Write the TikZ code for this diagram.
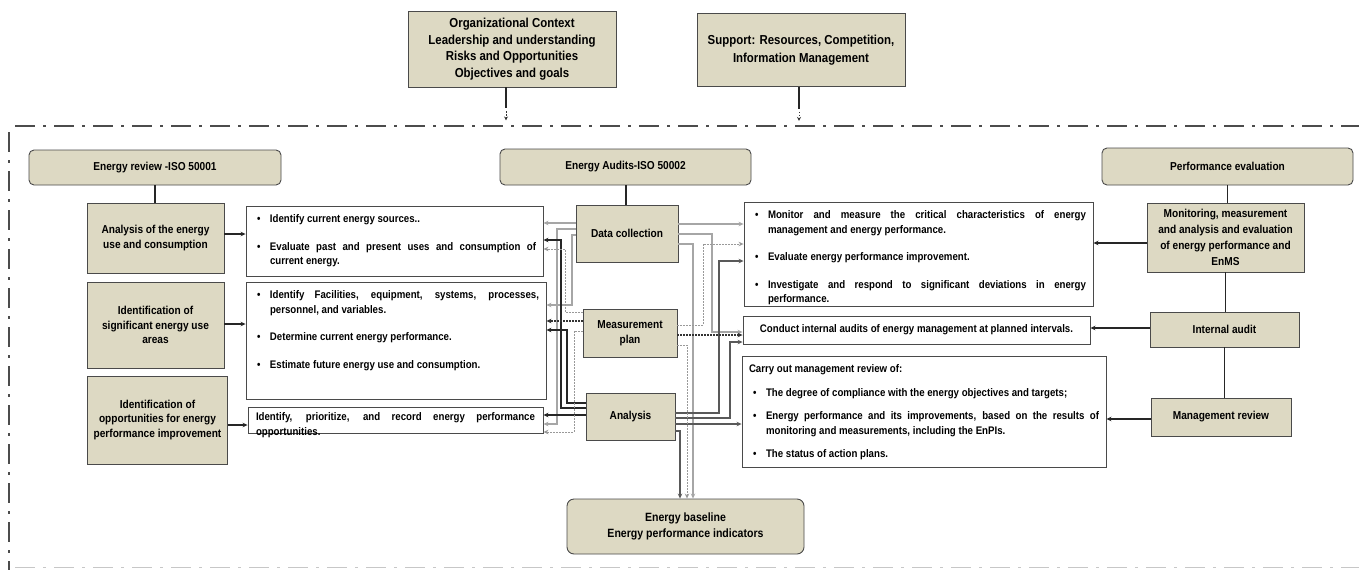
\documentclass[tikz,border=0pt]{standalone}
\usepackage{fontspec}
\setmainfont{Liberation Sans}[FakeStretch=0.88]
\usetikzlibrary{arrows.meta,calc}
\definecolor{tanfill}{HTML}{DDD9C3}
\definecolor{edge}{HTML}{4A4A4A}
\newcommand\bul[1]{\par\hangindent=17pt\hangafter=1\noindent\makebox[17pt][l]{\hspace{4pt}\textbullet}#1\par}
\newcommand\tbx[4]{\parbox[c][#2][t]{#1}{\hyphenpenalty=10000\exhyphenpenalty=10000\emergencystretch=30pt\setlength\parskip{#3}\vspace*{\dimexpr5pt-#3\relax}#4}}
\tikzset{
 bx/.style={draw=edge, line width=0.9pt, fill=tanfill, align=center, inner sep=0pt, font=\bfseries\fontsize{11.5}{14.5}\selectfont},
 hdr/.style={bx, rounded corners=5pt, font=\bfseries\fontsize{11.5}{14}\selectfont},
 tbox/.style={draw=edge, line width=0.9pt, fill=white, inner xsep=7pt, inner ysep=4pt, font=\bfseries\fontsize{11}{14.5}\selectfont},
 tip/.style={-{Stealth[length=5pt,width=4.5pt]}},
 plain/.style={draw=black!85, line width=1.3pt},
 barr/.style={tip, draw=black!85, line width=1.3pt},
 garr/.style={tip, draw=black!35, line width=1.1pt},
 darr/.style={tip, draw=black!80, line width=1.1pt, dash pattern=on 1.5pt off 1.5pt},
 larr/.style={tip, draw=black!40, line width=1pt, dash pattern=on 1.5pt off 1.5pt},
 frame/.style={draw=black!70, line width=2pt, dash pattern=on 20pt off 8pt on 3pt off 8pt},
}
\begin{document}
\begin{tikzpicture}[x=1pt,y=-1pt]
\useasboundingbox (0,0) rectangle (1359,570);
\fill[white] (0,0) rectangle (1359,570);

% frame
\draw[frame] (15,126) -- (1359,126);
\draw[frame] (9,132) -- (9,570);
\draw[frame, draw=black!22, line width=1pt] (15,567) -- (1359,567);

% top boxes
\node[bx, minimum width=208pt, minimum height=76pt, font=\bfseries\fontsize{13}{16.5}\selectfont] (org) at (512,49)
  {Organizational Context\\Leadership and understanding\\Risks and Opportunities\\Objectives and goals};
\node[bx, minimum width=208pt, minimum height=73pt, font=\bfseries\fontsize{13}{18}\selectfont] (sup) at (801,50)
  {Support: Resources, Competition,\\Information Management};
\coordinate (orgtip) at ($(org.south)+(-6,33)$);
\coordinate (suptip) at ($(sup.south)+(-2,34)$);
\draw[line width=2pt, black!85] ($(org.south)+(-6,0)$) -- ($(org.south)+(-6,21)$);
\draw[larr, draw=black!80, -{Stealth[length=4pt,width=4pt]}] ($(org.south)+(-6,24)$) -- (orgtip);
\draw[line width=2pt, black!85] ($(sup.south)+(-2,0)$) -- ($(sup.south)+(-2,22)$);
\draw[larr, draw=black!80, -{Stealth[length=4pt,width=4pt]}] ($(sup.south)+(-2,25)$) -- (suptip);

% headers
\node[hdr, minimum width=252pt, minimum height=35pt] (rev) at (155,167.5) {Energy review -ISO 50001};
\node[hdr, minimum width=251pt, minimum height=36pt] (aud) at (625.5,167) {Energy Audits-ISO 50002};
\node[hdr, minimum width=251pt, minimum height=37pt] (perf) at (1227.5,166.5) {Performance evaluation};

% left column
\node[bx, minimum width=137pt, minimum height=70pt] (a1) at (155.5,238) {Analysis of the energy\\use and consumption};
\node[bx, minimum width=137pt, minimum height=86pt] (a2) at (155.5,325) {Identification of\\significant energy use\\areas};
\node[bx, minimum width=140pt, minimum height=88pt] (a3) at (157.5,420) {Identification of\\opportunities for energy\\performance improvement};

% left text boxes
\node[tbox] (t1) at (394.5,241) {\tbx{283pt}{62pt}{13pt}{%
  \bul{Identify current energy sources..}%
  \bul{Evaluate past and present uses and consumption of\linebreak current energy.}}};
\node[tbox] (t2) at (396,340.5) {\tbx{286pt}{109pt}{13pt}{%
  \bul{Identify Facilities, equipment, systems, processes,\linebreak personnel, and variables.}%
  \bul{Determine current energy performance.}%
  \bul{Estimate future energy use and consumption.}}};
\node[tbox, inner xsep=8pt] (t3) at (395.5,420) {\tbx{279pt}{18pt}{0pt}{%
  \vspace*{-3pt}\noindent Identify, prioritize, and record energy performance\linebreak opportunities.}};

% audit column
\node[bx, minimum width=102pt, minimum height=57pt] (dc) at (627,233.5) {Data collection};
\node[bx, minimum width=94pt, minimum height=48pt] (mp) at (630,333) {Measurement\\plan};
\node[bx, minimum width=89pt, minimum height=47pt] (an) at (630.5,416.5) {Analysis};
\node[hdr, minimum width=237pt, minimum height=55pt, rounded corners=7pt, font=\bfseries\fontsize{12}{16}\selectfont] (base) at (685.5,526.5)
  {Energy baseline\\Energy performance indicators};

% right text boxes
\node[tbox] (t4) at (918.5,254) {\tbx{335pt}{96pt}{13pt}{%
  \bul{Monitor and measure the critical characteristics of energy\linebreak management and energy performance.}%
  \bul{Evaluate energy performance improvement.}%
  \bul{Investigate and respond to significant deviations in energy\linebreak performance.}}};
\node[tbox, minimum width=347pt, minimum height=28pt, inner sep=0pt] (t5) at (916.5,330)
  {Conduct internal audits of energy management at planned intervals.};
\node[tbox] (t6) at (924,411.5) {\tbx{350pt}{103pt}{9pt}{%
  \noindent Carry out management review of:\par
  \bul{The degree of compliance with the energy objectives and targets;}%
  \bul{Energy performance and its improvements, based on the results of\linebreak monitoring and measurements, including the EnPIs.}%
  \bul{The status of action plans.}}};

% right column
\node[bx, minimum width=157pt, minimum height=69pt, font=\bfseries\fontsize{11.5}{16}\selectfont] (mon) at (1225.5,237.5)
  {Monitoring, measurement\\and analysis and evaluation\\of energy performance and\\EnMS};
\node[bx, minimum width=149pt, minimum height=35pt] (ia) at (1224.5,329.5) {Internal audit};
\node[bx, minimum width=140pt, minimum height=38pt] (mr) at (1221,417) {Management review};

% plain links
\draw[plain] (rev.south) -- (rev.south |- a1.north);
\draw[plain, line width=2pt] (aud.south) -- (aud.south |- dc.north);
\draw[plain] (perf.south) -- (perf.south |- mon.north);
\draw[plain] (mon.south) -- (mon.south |- ia.north);
\draw[plain] (ia.south) -- (ia.south |- mr.north);

% left arrows
\draw[barr] (a1.east |- 0,234) -- (t1.west |- 0,234);
\draw[barr] (a2.east |- 0,324) -- (t2.west |- 0,324);
\draw[barr] (a3.east |- 0,425) -- (t3.west |- 0,425);
% right arrows
\draw[barr] (mon.west |- 0,243) -- (t4.east |- 0,243);
\draw[barr] (ia.west |- 0,328) -- (t5.east |- 0,328);
\draw[barr] (mr.west |- 0,419) -- (t6.east |- 0,419);

% data collection links
\draw[garr] (dc.west |- 0,223) -- (t1.east |- 0,223);
\draw[garr] (dc.west |- 0,229) -- (557,229) -- (557,424) -- (t3.east |- 0,424);
\draw[garr] (dc.west |- 0,235) -- (572,235) -- (572,305) -- (t2.east |- 0,305);
\draw[garr] (dc.east |- 0,224) -- (t4.west |- 0,224);
\draw[garr] (dc.east |- 0,234) -- (712,234) -- (712,332) -- (t5.west |- 0,332);
\draw[garr] (dc.east |- 0,244) -- (693,244) -- (693,0 |- base.north);

% analysis links
\draw[barr] (an.west |- 0,408) -- (561,408) -- (561,240) -- (t1.east |- 0,240);
\draw[barr] (an.west |- 0,403) -- (567,403) -- (567,330) -- (t2.east |- 0,330);
\draw[barr] (an.west |- 0,415) -- (t3.east |- 0,415);
\draw[barr, draw=black!65, line width=1.1pt] (an.east |- 0,413) -- (719,413) -- (719,261) -- (t4.west |- 0,261);
\draw[barr, draw=black!65, line width=1.1pt] (an.east |- 0,418) -- (730,418) -- (730,342) -- (t5.west |- 0,342);
\draw[barr, draw=black!65, line width=1.1pt] (an.east |- 0,424) -- (t6.west |- 0,424);
\draw[barr, draw=black!65, line width=1.1pt] (an.east |- 0,431) -- (680,431) -- (680,0 |- base.north);

% measurement plan links
\draw[darr] (mp.west |- 0,321) -- (t2.east |- 0,321);
\draw[darr] (mp.east |- 0,335) -- (t5.west |- 0,335);
\draw[larr] (mp.west |- 0,312) -- (565,312) -- (565,249) -- (t1.east |- 0,249);
\draw[larr] (mp.west |- 0,331) -- (574,331) -- (574,432) -- (t3.east |- 0,432);
\draw[larr] (mp.east |- 0,325) -- (703,325) -- (703,244) -- (t4.west |- 0,244);
\draw[larr] (mp.east |- 0,345) -- (687,345) -- (687,0 |- base.north);
\end{tikzpicture}
\end{document}
